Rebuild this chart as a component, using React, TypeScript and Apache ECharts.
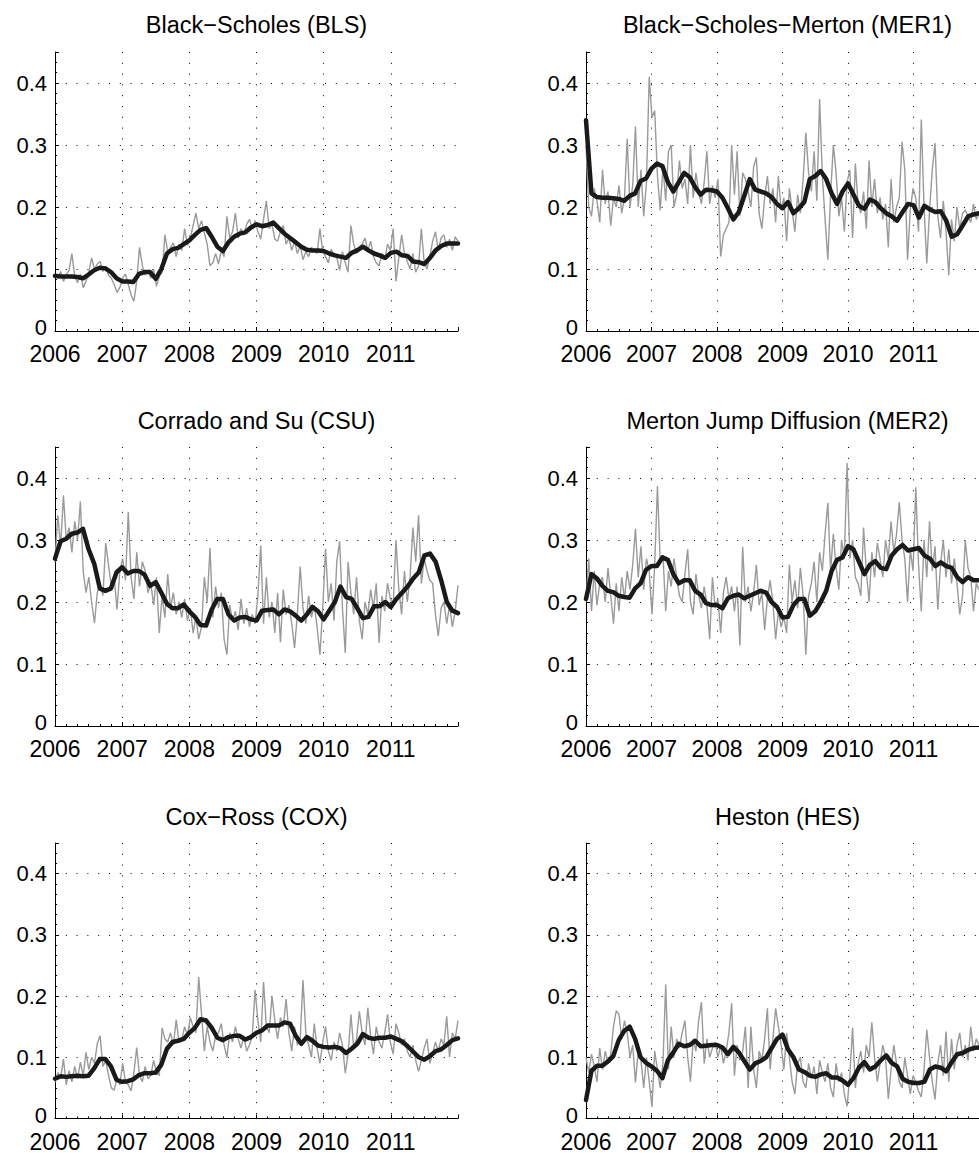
import React, { useEffect, useRef } from "react";
import * as echarts from "echarts";

// ---------- data ----------
const titles = [
  "Black−Scholes (BLS)",
  "Black−Scholes−Merton (MER1)",
  "Corrado and Su (CSU)",
  "Merton Jump Diffusion (MER2)",
  "Cox−Ross (COX)",
  "Heston (HES)",
];
const xMin = 2006;
const xMax = 2012;
const yMax = 0.45;

// gray: raw values (2 per month, 2006.0 .. 2012.0)
const blsGray = [
  0.092,0.085,0.096,0.080,0.090,0.098,0.125,0.088,0.078,0.092,0.070,0.080,0.095,0.118,0.100,0.108,0.112,0.096,0.104,0.090,0.085,0.075,0.062,0.070,
  0.085,0.092,0.075,0.058,0.048,0.080,0.135,0.105,0.090,0.098,0.085,0.100,0.072,0.088,0.095,0.155,0.128,0.135,0.142,0.120,0.140,0.130,0.165,0.138,
  0.150,0.170,0.190,0.165,0.178,0.158,0.140,0.105,0.110,0.125,0.108,0.130,0.120,0.185,0.150,0.160,0.190,0.150,0.165,0.155,0.172,0.180,0.165,0.178,
  0.160,0.148,0.180,0.210,0.165,0.172,0.148,0.145,0.160,0.170,0.140,0.150,0.130,0.145,0.125,0.138,0.115,0.128,0.120,0.135,0.130,0.125,0.165,0.128,
  0.120,0.110,0.132,0.122,0.118,0.098,0.128,0.110,0.095,0.170,0.140,0.125,0.135,0.140,0.150,0.130,0.145,0.120,0.110,0.105,0.125,0.115,0.140,0.130,
  0.165,0.080,0.118,0.155,0.125,0.112,0.100,0.125,0.095,0.105,0.165,0.110,0.100,0.120,0.145,0.160,0.130,0.150,0.155,0.135,0.148,0.130,0.152,0.145,
];
const blsBlack = [
  0.089,0.088,0.088,0.088,0.087,0.085,0.091,0.098,0.102,0.101,0.095,0.085,
  0.080,0.080,0.079,0.092,0.095,0.095,0.084,0.100,0.125,0.132,0.134,0.140,
  0.146,0.155,0.163,0.166,0.152,0.136,0.129,0.143,0.152,0.157,0.159,0.167,
  0.172,0.169,0.171,0.175,0.166,0.157,0.150,0.143,0.136,0.131,0.130,0.130,
  0.129,0.125,0.122,0.120,0.118,0.126,0.130,0.136,0.130,0.125,0.122,0.118,
  0.126,0.128,0.122,0.121,0.112,0.111,0.108,0.118,0.130,0.137,0.141,0.141,
  0.141,
];

const mer1Gray = [
  0.300,0.200,0.185,0.230,0.210,0.175,0.260,0.205,0.225,0.170,0.215,0.200,0.235,0.190,0.215,0.310,0.200,0.235,0.330,0.200,0.260,0.185,0.240,0.410,
  0.345,0.355,0.250,0.195,0.265,0.210,0.290,0.300,0.200,0.220,0.275,0.230,0.245,0.205,0.300,0.215,0.255,0.225,0.205,0.240,0.290,0.205,0.235,0.215,
  0.245,0.120,0.155,0.165,0.175,0.300,0.220,0.290,0.185,0.255,0.245,0.225,0.200,0.265,0.280,0.190,0.165,0.215,0.250,0.205,0.230,0.175,0.250,0.195,
  0.215,0.145,0.230,0.195,0.160,0.220,0.190,0.245,0.320,0.255,0.225,0.290,0.210,0.374,0.250,0.180,0.115,0.220,0.300,0.255,0.185,0.215,0.160,0.240,
  0.260,0.150,0.270,0.205,0.190,0.225,0.165,0.275,0.200,0.245,0.190,0.215,0.180,0.205,0.135,0.245,0.175,0.200,0.215,0.305,0.260,0.115,0.195,0.230,
  0.215,0.160,0.341,0.200,0.109,0.195,0.260,0.303,0.185,0.150,0.210,0.160,0.090,0.180,0.145,0.200,0.165,0.190,0.195,0.185,0.175,0.205,0.180,0.190,
];
const mer1Black = [
  0.340,0.222,0.216,0.215,0.215,0.214,0.213,0.210,0.218,0.222,0.242,0.246,
  0.262,0.270,0.266,0.240,0.225,0.240,0.255,0.248,0.232,0.220,0.228,0.227,
  0.225,0.215,0.198,0.180,0.192,0.218,0.245,0.228,0.225,0.222,0.216,0.205,
  0.198,0.208,0.190,0.198,0.208,0.245,0.250,0.258,0.245,0.222,0.205,0.225,
  0.238,0.220,0.202,0.197,0.212,0.208,0.198,0.190,0.185,0.178,0.192,0.205,
  0.203,0.183,0.202,0.196,0.192,0.193,0.178,0.152,0.156,0.170,0.185,0.188,
  0.190,
];

const csuGray = [
  0.265,0.340,0.290,0.372,0.300,0.320,0.280,0.330,0.300,0.362,0.250,0.215,0.240,0.200,0.166,0.215,0.230,0.210,0.295,0.260,0.225,0.240,0.188,0.250,
  0.270,0.235,0.345,0.240,0.205,0.280,0.225,0.265,0.250,0.215,0.230,0.195,0.240,0.150,0.210,0.175,0.245,0.190,0.215,0.180,0.200,0.175,0.205,0.170,
  0.190,0.150,0.175,0.140,0.160,0.240,0.200,0.287,0.175,0.225,0.190,0.215,0.140,0.115,0.195,0.170,0.185,0.155,0.205,0.165,0.190,0.160,0.180,0.165,
  0.210,0.291,0.165,0.240,0.175,0.200,0.150,0.215,0.135,0.220,0.180,0.195,0.165,0.126,0.180,0.257,0.190,0.165,0.210,0.175,0.195,0.160,0.115,0.190,
  0.286,0.200,0.230,0.170,0.265,0.298,0.190,0.118,0.265,0.215,0.180,0.240,0.170,0.140,0.200,0.180,0.220,0.190,0.230,0.134,0.210,0.185,0.230,0.205,
  0.195,0.300,0.220,0.180,0.250,0.200,0.240,0.320,0.265,0.340,0.230,0.270,0.250,0.235,0.230,0.180,0.145,0.190,0.200,0.165,0.195,0.160,0.185,0.227,
];
const csuBlack = [
  0.270,0.298,0.302,0.310,0.312,0.318,0.285,0.262,0.222,0.218,0.222,0.248,
  0.256,0.246,0.250,0.250,0.244,0.226,0.232,0.215,0.197,0.190,0.190,0.196,
  0.185,0.176,0.163,0.162,0.188,0.205,0.205,0.180,0.170,0.175,0.176,0.172,
  0.170,0.186,0.187,0.188,0.180,0.188,0.185,0.178,0.170,0.180,0.192,0.185,
  0.172,0.186,0.200,0.225,0.208,0.205,0.190,0.174,0.176,0.193,0.193,0.200,
  0.192,0.205,0.215,0.225,0.238,0.248,0.275,0.278,0.265,0.235,0.200,0.186,
  0.182,
];

const mer2Gray = [
  0.200,0.270,0.185,0.250,0.195,0.230,0.240,0.200,0.255,0.210,0.165,0.230,0.185,0.240,0.205,0.250,0.220,0.260,0.318,0.240,0.290,0.220,0.270,0.250,
  0.180,0.260,0.387,0.265,0.275,0.185,0.250,0.225,0.270,0.240,0.210,0.200,0.245,0.285,0.200,0.180,0.245,0.210,0.190,0.225,0.195,0.140,0.240,0.190,
  0.205,0.150,0.215,0.240,0.205,0.225,0.185,0.225,0.130,0.289,0.200,0.225,0.185,0.215,0.260,0.195,0.215,0.155,0.205,0.235,0.200,0.140,0.185,0.160,
  0.175,0.150,0.260,0.200,0.235,0.190,0.255,0.210,0.115,0.210,0.230,0.265,0.200,0.280,0.250,0.310,0.360,0.250,0.310,0.255,0.220,0.300,0.270,0.424,
  0.270,0.300,0.240,0.230,0.210,0.320,0.250,0.200,0.280,0.240,0.295,0.270,0.240,0.300,0.270,0.330,0.280,0.310,0.361,0.300,0.270,0.200,0.285,0.250,
  0.385,0.260,0.185,0.300,0.240,0.330,0.250,0.290,0.188,0.260,0.300,0.240,0.285,0.230,0.270,0.230,0.180,0.210,0.300,0.255,0.240,0.185,0.230,0.220,
];
const mer2Black = [
  0.205,0.245,0.238,0.226,0.218,0.216,0.210,0.208,0.207,0.222,0.230,0.252,
  0.258,0.258,0.272,0.268,0.245,0.230,0.235,0.235,0.218,0.212,0.198,0.195,
  0.195,0.190,0.206,0.210,0.212,0.206,0.210,0.214,0.218,0.215,0.200,0.192,
  0.175,0.176,0.195,0.205,0.205,0.178,0.185,0.200,0.218,0.250,0.268,0.272,
  0.290,0.285,0.265,0.245,0.260,0.266,0.255,0.253,0.275,0.285,0.292,0.283,
  0.285,0.287,0.275,0.270,0.258,0.264,0.258,0.255,0.240,0.232,0.240,0.235,
  0.235,
];

const coxGray = [
  0.060,0.075,0.065,0.097,0.055,0.078,0.060,0.085,0.065,0.092,0.070,0.108,0.080,0.100,0.090,0.122,0.135,0.085,0.095,0.070,0.050,0.046,0.065,0.055,
  0.090,0.060,0.055,0.045,0.075,0.116,0.070,0.060,0.085,0.065,0.070,0.095,0.075,0.070,0.148,0.130,0.125,0.140,0.120,0.161,0.125,0.130,0.150,0.135,
  0.165,0.150,0.140,0.231,0.170,0.110,0.150,0.125,0.110,0.135,0.140,0.155,0.120,0.100,0.140,0.125,0.150,0.130,0.115,0.135,0.110,0.120,0.135,0.210,
  0.160,0.125,0.223,0.150,0.140,0.200,0.160,0.130,0.165,0.150,0.195,0.140,0.110,0.150,0.120,0.130,0.226,0.140,0.120,0.100,0.155,0.115,0.090,0.125,
  0.150,0.110,0.095,0.125,0.110,0.140,0.120,0.074,0.105,0.170,0.115,0.130,0.175,0.140,0.120,0.181,0.135,0.105,0.150,0.125,0.115,0.140,0.170,0.125,
  0.105,0.155,0.140,0.120,0.130,0.110,0.100,0.120,0.095,0.077,0.095,0.115,0.130,0.090,0.105,0.125,0.110,0.130,0.120,0.167,0.100,0.140,0.130,0.160,
];
const coxBlack = [
  0.065,0.069,0.068,0.069,0.070,0.069,0.070,0.082,0.097,0.097,0.085,0.063,
  0.060,0.061,0.064,0.071,0.074,0.074,0.075,0.088,0.114,0.125,0.127,0.130,
  0.140,0.148,0.162,0.160,0.148,0.132,0.128,0.133,0.135,0.135,0.129,0.133,
  0.140,0.144,0.152,0.152,0.152,0.157,0.155,0.135,0.122,0.133,0.127,0.119,
  0.117,0.116,0.117,0.115,0.107,0.114,0.122,0.138,0.132,0.130,0.132,0.132,
  0.134,0.130,0.126,0.118,0.109,0.100,0.096,0.102,0.110,0.113,0.120,0.128,
  0.131,
];

const hesGray = [
  0.100,0.075,0.105,0.085,0.060,0.115,0.080,0.110,0.090,0.105,0.150,0.176,0.170,0.130,0.160,0.140,0.100,0.120,0.059,0.110,0.095,0.050,0.100,0.060,
  0.019,0.110,0.080,0.050,0.090,0.219,0.080,0.150,0.100,0.130,0.115,0.140,0.160,0.100,0.060,0.130,0.110,0.160,0.190,0.090,0.130,0.100,0.115,0.125,
  0.100,0.120,0.090,0.110,0.140,0.188,0.070,0.120,0.095,0.110,0.150,0.050,0.150,0.080,0.050,0.110,0.095,0.130,0.180,0.080,0.130,0.180,0.150,0.120,
  0.080,0.140,0.100,0.060,0.040,0.090,0.100,0.060,0.050,0.090,0.065,0.085,0.040,0.095,0.075,0.060,0.090,0.050,0.035,0.090,0.060,0.075,0.040,0.020,
  0.070,0.148,0.050,0.090,0.110,0.075,0.120,0.100,0.157,0.100,0.060,0.090,0.120,0.100,0.032,0.080,0.120,0.090,0.060,0.050,0.100,0.070,0.040,0.070,
  0.060,0.045,0.035,0.080,0.145,0.100,0.060,0.031,0.090,0.120,0.070,0.142,0.060,0.130,0.080,0.120,0.140,0.100,0.120,0.095,0.150,0.110,0.130,0.120,
];
const hesBlack = [
  0.030,0.078,0.086,0.086,0.093,0.102,0.128,0.143,0.150,0.130,0.100,0.091,
  0.085,0.078,0.066,0.095,0.108,0.122,0.118,0.120,0.127,0.118,0.119,0.120,
  0.120,0.116,0.105,0.117,0.108,0.094,0.080,0.090,0.094,0.100,0.115,0.130,
  0.137,0.113,0.100,0.080,0.076,0.070,0.068,0.072,0.074,0.067,0.067,0.062,
  0.055,0.066,0.083,0.092,0.080,0.085,0.095,0.103,0.091,0.085,0.065,0.060,
  0.058,0.058,0.060,0.080,0.085,0.083,0.077,0.092,0.105,0.107,0.112,0.115,
  0.116,
];

const grayByPanel = [blsGray, mer1Gray, csuGray, mer2Gray, coxGray, hesGray];
const blackByPanel = [blsBlack, mer1Black, csuBlack, mer2Black, coxBlack, hesBlack];

// ---------- layout ----------
const FONT = '"Liberation Sans", Arial, Helvetica, sans-serif';
const GRID_LEFT = [55, 586];
const GRID_TOP = [52, 447, 843];
const TITLE_Y = [25, 421, 817];
const PLOT_W = 403;
const PLOT_H = 279;

const toPairs = (vals: number[]) =>
  vals.map((v, i) => [xMin + (i * (xMax - xMin)) / (vals.length - 1), v]);

export default function App() {
  const ref = useRef<HTMLDivElement>(null);

  useEffect(() => {
    if (!ref.current) return;
    const chart = echarts.init(ref.current, undefined, { renderer: "svg" });

    const grid: any[] = [];
    const xAxis: any[] = [];
    const yAxis: any[] = [];
    const series: any[] = [];
    const graphic: any[] = [];

    const dotted = { color: "#000", width: 1, type: [1, 9.8] };
    const labelFont = { color: "#000", fontFamily: FONT, fontSize: 22 };

    titles.forEach((title, k) => {
      const col = k % 2;
      const row = Math.floor(k / 2);
      grid.push({
        left: GRID_LEFT[col],
        top: GRID_TOP[row],
        width: PLOT_W,
        height: PLOT_H,
      });
      xAxis.push({
        gridIndex: k,
        type: "value",
        min: xMin,
        max: xMax,
        interval: 1,
        axisLine: { show: true, onZero: false, lineStyle: { color: "#000", width: 1 } },
        axisTick: { show: true, inside: true, length: 4, lineStyle: { color: "#000" } },
        minorTick: { show: true, splitNumber: 6, length: 2, lineStyle: { color: "#000" } },
        axisLabel: {
          color: "#000",
          fontFamily: FONT,
          fontSize: 23,
          lineHeight: 16,
          margin: 15,
          showMaxLabel: false,
          formatter: (v: number) => (v >= xMax ? "" : String(Math.round(v))),
        },
        splitLine: { show: true, showMinLine: false, showMaxLine: false, lineStyle: dotted },
      });
      yAxis.push({
        gridIndex: k,
        type: "value",
        min: 0,
        max: yMax,
        interval: 0.1,
        axisLine: { show: true, onZero: false, lineStyle: { color: "#000", width: 1 } },
        axisTick: { show: true, inside: true, length: 4, lineStyle: { color: "#000" } },
        minorTick: { show: true, splitNumber: 6, length: 2, lineStyle: { color: "#000" } },
        axisLabel: {
          ...labelFont,
          margin: 8,
          showMaxLabel: false,
          formatter: (v: number) =>
            v > 0.405 ? "" : v === 0 ? "{z|0}" : v.toFixed(1),
          rich: {
            z: { ...labelFont, padding: [0, 0, 7, 0] },
          },
        },
        splitLine: { show: true, showMinLine: false, showMaxLine: false, lineStyle: dotted },
      });
      series.push({
        type: "line",
        xAxisIndex: k,
        yAxisIndex: k,
        data: toPairs(grayByPanel[k]),
        showSymbol: false,
        symbol: "none",
        silent: true,
        z: 2,
        lineStyle: { color: "#9a9a9a", width: 1.4 },
      });
      series.push({
        type: "line",
        xAxisIndex: k,
        yAxisIndex: k,
        data: toPairs(blackByPanel[k]),
        showSymbol: false,
        symbol: "none",
        silent: true,
        z: 3,
        lineStyle: { color: "#1a1a1a", width: 4.5, join: "round", cap: "round" },
      });
      graphic.push({
        type: "text",
        x: GRID_LEFT[col] + PLOT_W / 2,
        y: TITLE_Y[row],
        style: {
          text: title,
          fill: "#000",
          font: `23.5px ${FONT}`,
          align: "center",
          verticalAlign: "middle",
          textAlign: "center",
          textVerticalAlign: "middle",
        },
      });
    });

    chart.setOption({
      animation: false,
      backgroundColor: "#fff",
      grid,
      xAxis,
      yAxis,
      series,
      graphic,
    });

    return () => chart.dispose();
  }, []);

  return (
    <div
      ref={ref}
      style={{ position: "absolute", left: 0, top: 0, width: 979, height: 1153 }}
    />
  );
}
